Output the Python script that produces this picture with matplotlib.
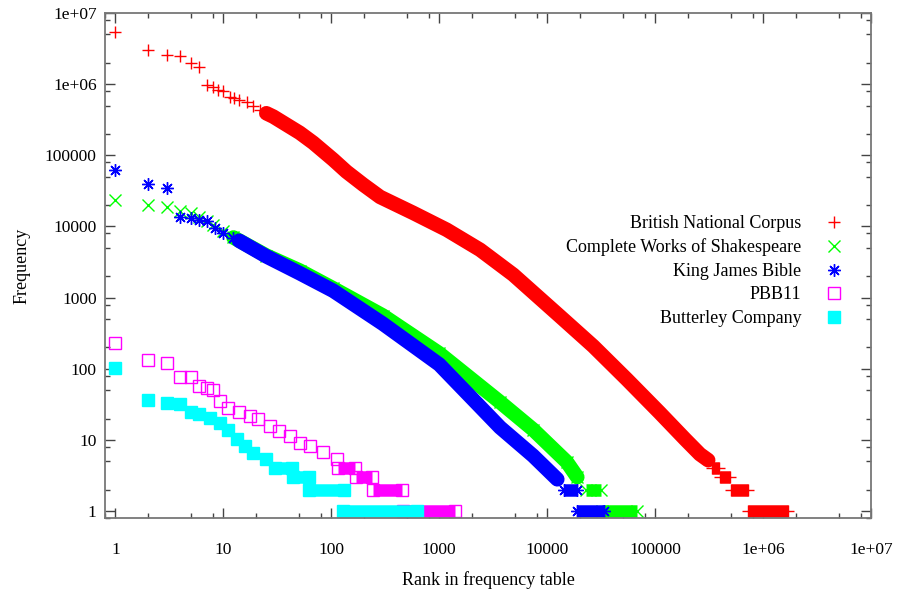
"""
Rank / frequency plot (Zipf) for five corpora, gnuplot style look.
"""

import matplotlib
matplotlib.use('Agg')
import matplotlib.pyplot as plt
from matplotlib.ticker import LogLocator, NullFormatter

plt.rcParams['font.family'] = ['Liberation Serif', 'DejaVu Serif']

# ------------------------------------------------------------
# data (rank, frequency)
# ------------------------------------------------------------
SERIES_LABELS = ['British National Corpus', 'Complete Works of Shakespeare',
                 'King James Bible', 'PBB11', 'Butterley Company']

# British National Corpus
bnc_top_rank = [1, 2, 3, 4, 5, 6, 7, 8, 9, 10, 11.5, 12.5, 14, 16.5, 19, 22]
bnc_top_freq = [5.35e6, 3.05e6, 2.57e6, 2.48e6, 2.0e6, 1.76e6, 9.7e5, 9.0e5, 8.3e5,
                8.0e5, 6.6e5, 6.3e5, 6.0e5, 5.7e5, 5.0e5, 4.35e5]
bnc_band_rank = [25, 29, 51, 68, 104, 138, 198, 283, 574, 1170, 2390, 4850, 13100,
                 26700, 54700, 110000, 190000, 260000, 310000]
bnc_band_freq = [3.9e5, 3.5e5, 2.07e5, 1.5e5, 8.7e4, 5.9e4, 3.86e4, 2.6e4, 1.55e4,
                 9.0e3, 4.7e3, 2.1e3, 548, 208, 71, 24.2, 10.2, 6.3, 5.2]
bnc_step_freq = [4, 3, 2, 1]
bnc_step_start = [3.4e5, 4.0e5, 5.0e5, 7.3e5]
bnc_step_end = [3.9e5, 4.9e5, 7.2e5, 1.7e6]

# Complete Works of Shakespeare
shk_top_rank = [1, 2, 3, 4, 5, 6, 7, 8, 10]
shk_top_freq = [2.38e4, 1.98e4, 1.87e4, 1.65e4, 1.55e4, 1.35e4, 1.2e4, 1.05e4, 8.5e3]
shk_band_rank = [12.4, 25, 51, 104, 300, 1000, 3660, 7400, 15200, 19000]
shk_band_freq = [7.0e3, 3.9e3, 2.4e3, 1.35e3, 560, 165, 34, 14, 4.9, 3]
shk_step_freq = [2, 1]
shk_step_start = [2.28e4, 3.2e4]
shk_step_end = [3.14e4, 6.76e4]

# King James Bible
kjb_top_rank = [1, 2, 3, 4, 5, 6, 7, 8.4, 10, 12.4]
kjb_top_freq = [6.3e4, 3.9e4, 3.47e4, 1.38e4, 1.32e4, 1.24e4, 1.2e4, 9.5e3, 8.2e3, 6.9e3]
kjb_band_rank = [14, 25, 51, 104, 300, 1000, 3660, 7400, 12400]
kjb_band_freq = [6.3e3, 3.8e3, 2.2e3, 1.25e3, 430, 115, 15, 6, 2.8]
kjb_step_freq = [2, 1]
kjb_step_start = [1.43e4, 1.9e4]
kjb_step_end = [1.88e4, 3.35e4]

# PBB11
pbb_top_rank = [1, 2, 3, 4, 5, 6, 7, 8, 9.3, 11, 14, 17.6, 21, 27, 33, 41, 51,
                63, 84, 112]
pbb_top_freq = [227, 135, 122, 77, 77, 57, 54, 51, 35, 28.5, 25, 22, 19.5, 15.7,
                13.4, 11.4, 9.2, 8.2, 6.7, 5.4]
pbb_step_freq = [4, 3, 2, 1]
pbb_step_start = [115, 170, 245, 460]
pbb_step_end = [165, 240, 454, 1400]

# Butterley Company
but_top_rank = [1, 2, 3, 4, 5, 6, 7.5, 9.3, 11, 13.3, 16, 19, 25]
but_top_freq = [103, 36, 33, 31.6, 25, 22.8, 20.6, 17.5, 14, 10.2, 8.2, 6.6, 5.35]
but_step_freq = [4, 3, 2, 1]
but_step_start = [30, 44, 62, 129]
but_step_end = [43, 62, 130, 620]

TICK_VALUES = [1, 10, 100, 1000, 10000, 100000, 1e6, 1e7]
TICK_LABELS = ['1', '10', '100', '1000', '10000', '100000', '1e+06', '1e+07']

MS = 9        # marker size (pt)
BAND_LW = 10.5  # dense runs of markers look like a thick stroke


def draw_series(ax, top_r, top_f, band_r, band_f, st_f, st_a, st_b,
                color, marker, label, filled=True):
    mfc = color if filled else 'none'
    kw = dict(color=color, marker=marker, ms=MS, mew=1.0, mfc=mfc, ls='none')
    ax.plot(top_r, top_f, label=label, **kw)
    if band_r:
        ax.plot(band_r, band_f, color=color, lw=BAND_LW,
                solid_capstyle='round', solid_joinstyle='round')
        ax.plot(band_r, band_f, **kw)
    for f, a, b in zip(st_f, st_a, st_b):
        ax.plot([a, b], [f, f], color=color, lw=MS, solid_capstyle='butt')
        ax.plot([a, b], [f, f], **kw)


fig = plt.figure(figsize=(8.97, 5.9), dpi=100)
ax = fig.add_axes([105 / 897, 1 - 518 / 590, 766 / 897, 505 / 590])

draw_series(ax, bnc_top_rank, bnc_top_freq, bnc_band_rank, bnc_band_freq,
            bnc_step_freq, bnc_step_start, bnc_step_end,
            '#ff0000', '+', SERIES_LABELS[0])
draw_series(ax, shk_top_rank, shk_top_freq, shk_band_rank, shk_band_freq,
            shk_step_freq, shk_step_start, shk_step_end,
            '#00ff00', 'x', SERIES_LABELS[1])
draw_series(ax, kjb_top_rank, kjb_top_freq, kjb_band_rank, kjb_band_freq,
            kjb_step_freq, kjb_step_start, kjb_step_end,
            '#0000ff', (8, 2, 0), SERIES_LABELS[2])
draw_series(ax, pbb_top_rank, pbb_top_freq, [], [],
            pbb_step_freq, pbb_step_start, pbb_step_end,
            '#ff00ff', 's', SERIES_LABELS[3], filled=False)
draw_series(ax, but_top_rank, but_top_freq, [], [],
            but_step_freq, but_step_start, but_step_end,
            '#00ffff', 's', SERIES_LABELS[4])

ax.set_xscale('log')
ax.set_yscale('log')
ax.set_xlim(0.8, 1e7)
ax.set_ylim(0.8, 1e7)

for axis in (ax.xaxis, ax.yaxis):
    axis.set_minor_locator(LogLocator(base=10, subs=[2, 5, 8], numticks=20))
    axis.set_minor_formatter(NullFormatter())
ax.set_xticks(TICK_VALUES, TICK_LABELS)
ax.set_yticks(TICK_VALUES, TICK_LABELS)

ax.tick_params(which='both', direction='in', top=True, right=True,
               color='#444444', labelsize=12.5)
ax.tick_params(which='major', length=7, width=1)
ax.tick_params(which='minor', length=3.5, width=1)
ax.tick_params(axis='x', pad=17)
ax.tick_params(axis='y', pad=6)
for sp in ax.spines.values():
    sp.set_color('#777777')
    sp.set_linewidth(1.3)

ax.set_xlabel('Rank in frequency table', fontsize=13, labelpad=10)
ax.set_ylabel('Frequency', fontsize=13, labelpad=10)

ax.legend(loc='upper right', bbox_to_anchor=(0.996, 0.632), frameon=False,
          markerfirst=False, fontsize=13, labelspacing=0.36, handletextpad=0.8)

fig.savefig('out.png', dpi=100)
